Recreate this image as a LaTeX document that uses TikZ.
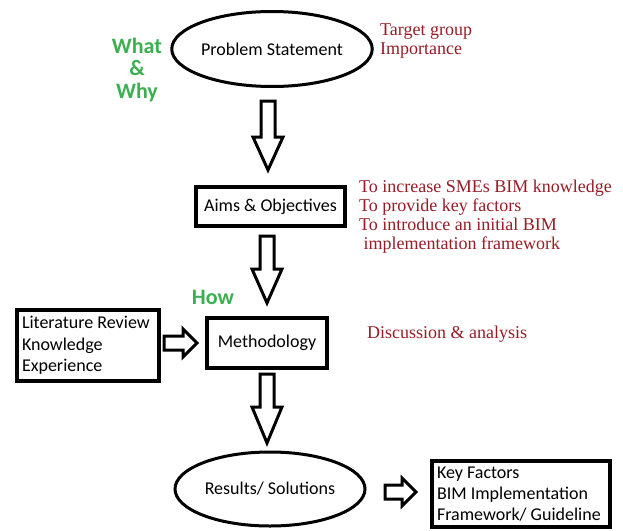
\documentclass[tikz,border=0pt]{standalone}
\usepackage{fontspec}
\setmainfont{Carlito}
\newfontfamily\serifred{Liberation Serif}
\usetikzlibrary{shapes.geometric}
\definecolor{hgreen}{RGB}{60,176,80}
\definecolor{hred}{RGB}{150,28,38}
\tikzset{
  x=1pt, y=-1pt,
  ell/.style={draw, line width=3pt, ellipse, inner sep=0pt, font=\fontsize{18}{21}\selectfont},
  boxn/.style={draw, line width=3.5pt, rectangle, inner sep=0pt, font=\fontsize{18}{21}\selectfont},
  blockarrow/.style={draw, line width=3pt, fill=white, line join=miter},
  greentxt/.style={text=hgreen, font=\fontsize{22}{22}\selectfont\bfseries, inner sep=0pt},
  redtxt/.style={text=hred, font=\serifred\fontsize{18}{19}\selectfont, inner sep=0pt, anchor=west, align=left},
}
\begin{document}
\begin{tikzpicture}
\useasboundingbox (0,0) rectangle (623,530);
% main nodes
\node[ell, minimum width=192pt, minimum height=75pt] (ps) at (272,49) {Problem Statement};
\node[boxn, minimum width=149pt, minimum height=39pt] (aims) at (270.5,206.5) {Aims \& Objectives};
\node[boxn, minimum width=120pt, minimum height=50pt] (meth) at (267,343) {Methodology};
\node[boxn, minimum width=142pt, minimum height=71pt, inner xsep=5pt, align=left, text width=132pt, font=\fontsize{18}{21.5}\selectfont] (lit) at (88,345.5) {\spaceskip=0.226em plus 0em Literature Review\\Knowledge\\Experience};
\node[ell, minimum width=190pt, minimum height=74pt] (res) at (270,489) {Results/ Solutions};
\node[boxn, minimum width=178pt, minimum height=66pt, inner xsep=5pt, align=left, text width=168pt, font=\fontsize{18}{21}\selectfont] (kf) at (521,494) {\spaceskip=0.226em plus 0em Key Factors\\BIM Implementation\\Framework/ Guideline};
% labels
\node[greentxt, align=center, font=\fontsize{22}{22.5}\selectfont\bfseries] (ww) at (137,70) {What\\\&\\Why};
\node[greentxt] (how) at (213,297) {How};
\node[redtxt] (tg) at (380,41) {Target group\\Importance};
\node[redtxt] (obj) at (359,216.5) {To increase SMEs BIM knowledge\\To provide key factors\\To introduce an initial BIM\\\ implementation framework};
\node[redtxt] (disc) at (367,334) {Discussion \& analysis};
% block arrows down
\draw[blockarrow] (261,101) -- (275,101) -- (275,137) -- (283,137) -- (268,170) -- (253,137) -- (261,137) -- cycle;
\draw[blockarrow] (260,236) -- (274,236) -- (274,269) -- (282,269) -- (267,303) -- (252,269) -- (260,269) -- cycle;
\draw[blockarrow] (260,374) -- (274,374) -- (274,407) -- (282,407) -- (267,443) -- (252,407) -- (260,407) -- cycle;
% block arrows right
\draw[blockarrow] (164,336) -- (183,336) -- (183,329) -- (197,343) -- (183,357) -- (183,350) -- (164,350) -- cycle;
\draw[blockarrow] (385,485) -- (402,485) -- (402,478) -- (416,492) -- (402,506) -- (402,499) -- (385,499) -- cycle;
\end{tikzpicture}
\end{document}
